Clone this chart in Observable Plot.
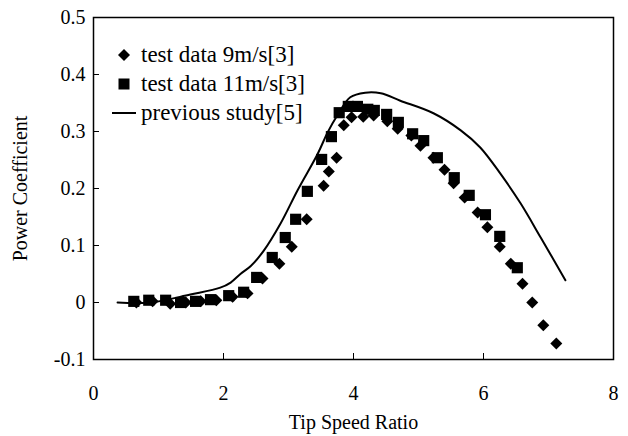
<!DOCTYPE html>
<html>
<head>
<meta charset="utf-8">
<script src="https://cdn.jsdelivr.net/npm/d3@7"></script>
<script src="https://cdn.jsdelivr.net/npm/@observablehq/plot@0.6"></script>
<style>
  body { margin: 0; background: #fff; }
  #wrap { position: relative; width: 628px; height: 436px; font-family: "Liberation Serif", "DejaVu Serif", serif; }
  #legend { position: absolute; left: 111px; top: 40px; font-size: 23px; line-height: 29px; color: #000; }
  #legend div { display: flex; align-items: center; height: 29px; white-space: nowrap; }
  #legend svg { width: 26px; height: 20px; margin-right: 4px; }
</style>
</head>
<body>
<div id="wrap">
  <div id="chart"></div>
  <div id="legend"></div>
</div>
<script>
// Tip speed ratio / power coefficient data
const tsr9 = [0.66, 0.91, 1.18, 1.42, 1.65, 1.89, 2.14, 2.37, 2.60, 2.86, 3.05, 3.28, 3.54, 3.62, 3.74, 3.85, 3.97, 4.15, 4.31, 4.52, 4.68, 4.89, 5.03, 5.23, 5.40, 5.54, 5.71, 5.91, 6.06, 6.25, 6.42, 6.60, 6.75, 6.92, 7.12];
const cp9  = [0.000, 0.002, -0.002, 0.000, 0.002, 0.004, 0.010, 0.016, 0.042, 0.068, 0.098, 0.146, 0.205, 0.230, 0.254, 0.311, 0.325, 0.326, 0.328, 0.318, 0.305, 0.293, 0.275, 0.254, 0.233, 0.209, 0.184, 0.158, 0.132, 0.098, 0.068, 0.033, 0.000, -0.040, -0.072];

const tsr11 = [0.62, 0.85, 1.11, 1.34, 1.57, 1.80, 2.08, 2.31, 2.51, 2.75, 2.95, 3.11, 3.29, 3.51, 3.66, 3.78, 3.92, 4.06, 4.22, 4.32, 4.51, 4.69, 4.91, 5.08, 5.29, 5.55, 5.78, 6.03, 6.25, 6.52];
const cp11  = [0.002, 0.004, 0.004, 0.000, 0.002, 0.005, 0.012, 0.018, 0.044, 0.079, 0.114, 0.146, 0.195, 0.251, 0.291, 0.333, 0.344, 0.344, 0.339, 0.337, 0.330, 0.316, 0.296, 0.284, 0.254, 0.219, 0.188, 0.154, 0.116, 0.061];

const tsrPrev = [0.37, 0.88, 1.49, 1.95, 2.11, 2.26, 2.42, 2.62, 2.88, 3.14, 3.45, 3.60, 3.75, 3.95, 4.18, 4.42, 4.72, 5.23, 5.65, 5.95, 6.26, 6.57, 6.88, 7.26];
const cpPrev  = [0.000, 0.000, 0.014, 0.026, 0.035, 0.050, 0.064, 0.091, 0.139, 0.197, 0.261, 0.298, 0.328, 0.360, 0.368, 0.367, 0.354, 0.332, 0.302, 0.272, 0.226, 0.174, 0.114, 0.039];

const seriesNames = ["test data 9m/s[3]", "test data 11m/s[3]", "previous study[5]"];
const xTicks = [0, 2, 4, 6, 8];
const yTicks = [-0.1, 0, 0.1, 0.2, 0.3, 0.4, 0.5];
const xTitle = "Tip Speed Ratio";
const yTitle = "Power Coefficient";

const d9 = tsr9.map((x, i) => ({x, y: cp9[i]}));
const d11 = tsr11.map((x, i) => ({x, y: cp11[i]}));
const dPrev = tsrPrev.map((x, i) => ({x, y: cpPrev[i]}));

const font = "Liberation Serif";
const fmt = d => d === 0 ? "0" : String(d);

const chart = Plot.plot({
  width: 628,
  height: 436,
  marginLeft: 93,
  marginRight: 15,
  marginTop: 17,
  marginBottom: 77,
  style: {fontFamily: font, background: "#fff", color: "#000"},
  x: {domain: [0, 8], axis: null},
  y: {domain: [-0.1, 0.5], axis: null},
  marks: [
    Plot.axisX({ticks: xTicks, tickSize: -6, tickPadding: 32, tickFormat: fmt, fontSize: 20, stroke: "#000", strokeWidth: 1, label: null}),
    Plot.axisY({ticks: yTicks, tickSize: -6, tickPadding: 14, tickFormat: fmt, fontSize: 20, stroke: "#000", strokeWidth: 1, label: null}),
    Plot.line(dPrev, {x: "x", y: "y", stroke: "#000", strokeWidth: 2, curve: "catmull-rom"}),
    Plot.dot(d11, {x: "x", y: "y", symbol: "square", r: 6.3, fill: "#000", stroke: "none"}),
    Plot.dot(d9, {x: "x", y: "y", symbol: "diamond2", r: 5.4, fill: "#000", stroke: "none"}),
    Plot.frame({stroke: "#000", strokeWidth: 1.5}),
    Plot.text([xTitle], {text: d => d, frameAnchor: "bottom", dy: 69, fontSize: 20, fill: "#000"}),
    Plot.text([yTitle], {text: d => d, frameAnchor: "left", textAnchor: "middle", dx: -73, rotate: -90, fontSize: 20, fill: "#000"})
  ]
});
document.getElementById("chart").appendChild(chart);

const legendSymbols = [
  '<svg viewBox="-13 -10 26 20"><path d="M0,-6L6,0L0,6L-6,0Z" fill="#000"/></svg>',
  '<svg viewBox="-13 -10 26 20"><rect x="-5.5" y="-5.5" width="11" height="11" fill="#000"/></svg>',
  '<svg viewBox="-13 -10 26 20"><line x1="-12" x2="12" y1="0" y2="0" stroke="#000" stroke-width="2"/></svg>'
];
const legend = document.getElementById("legend");
seriesNames.forEach((name, i) => {
  const row = document.createElement("div");
  row.innerHTML = legendSymbols[i];
  const span = document.createElement("span");
  span.textContent = name;
  row.appendChild(span);
  legend.appendChild(row);
});
</script>
</body>
</html>
